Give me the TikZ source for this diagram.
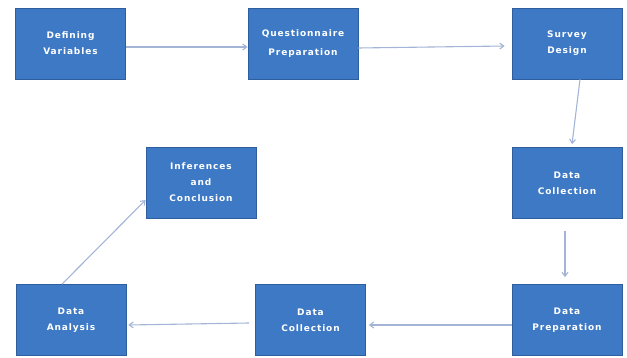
\documentclass[tikz,border=0pt]{standalone}
\usepackage{fontspec}
\newfontfamily\etapafont[LetterSpace=10]{DejaVu Sans}
\usepackage{xcolor}
\usetikzlibrary{arrows.meta}
\usetikzlibrary{positioning}
\definecolor{azulcaixa}{HTML}{3E79C5}
\definecolor{azulborda}{HTML}{2F5E9E}
\definecolor{cinzaseta}{HTML}{A3B4D6}
\tikzset{
  etapa/.style={draw=azulborda, fill=azulcaixa, line width=0.8pt, align=center, text=white,
    minimum width=110pt, minimum height=71pt, inner sep=2pt,
    font=\etapafont\bfseries\fontsize{9}{16}\selectfont},
  fluxo/.style={-{Straight Barb[length=4pt,width=6pt]}, draw=cinzaseta, line width=1.1pt},
}

\begin{document}
\begin{tikzpicture}[x=1pt, y=-1pt]
  \useasboundingbox (0,0) rectangle (627,358);
  \node[etapa] (def) at (70.5,43.5) {Defining\\Variables};
  \node[etapa] (quest) at (303,43.5) {Questionnaire\\[3pt]Preparation};
  \node[etapa] (survey) at (567,43.5) {Survey\\Design};
  \node[etapa] (coll1) at (567,183) {Data\\Collection};
  \node[etapa] (infer) at (201,182.5) {Inferences\\and\\Conclusion};
  \node[etapa] (prep) at (567,320) {Data\\Preparation};
  \node[etapa] (coll2) at (310.5,320) {Data\\Collection};
  \node[etapa] (anal) at (71,320) {Data\\Analysis};
  \draw[fluxo] ([yshift=-3.5pt]def.east) -- ([yshift=-3.5pt]quest.west);
  \draw[fluxo] ([yshift=-4.5pt]quest.east) -- ([xshift=-7pt,yshift=-2.5pt]survey.west);
  \draw[fluxo] ([xshift=13pt]survey.south) -- ([xshift=5pt,yshift=3pt]coll1.north);
  \draw[fluxo] ([xshift=-2pt,yshift=-12pt]coll1.south) -- ([xshift=-2pt,yshift=7pt]prep.north);
  \draw[fluxo] ([yshift=-5pt]prep.west) -- ([xshift=3pt,yshift=-5pt]coll2.east);
  \draw[fluxo] ([xshift=-6pt,yshift=-3pt]coll2.west) -- ([xshift=2pt,yshift=-5pt]anal.east);
  \draw[fluxo] ([xshift=-9pt]anal.north) -- ([yshift=-17.5pt]infer.west);
\end{tikzpicture}
\end{document}
